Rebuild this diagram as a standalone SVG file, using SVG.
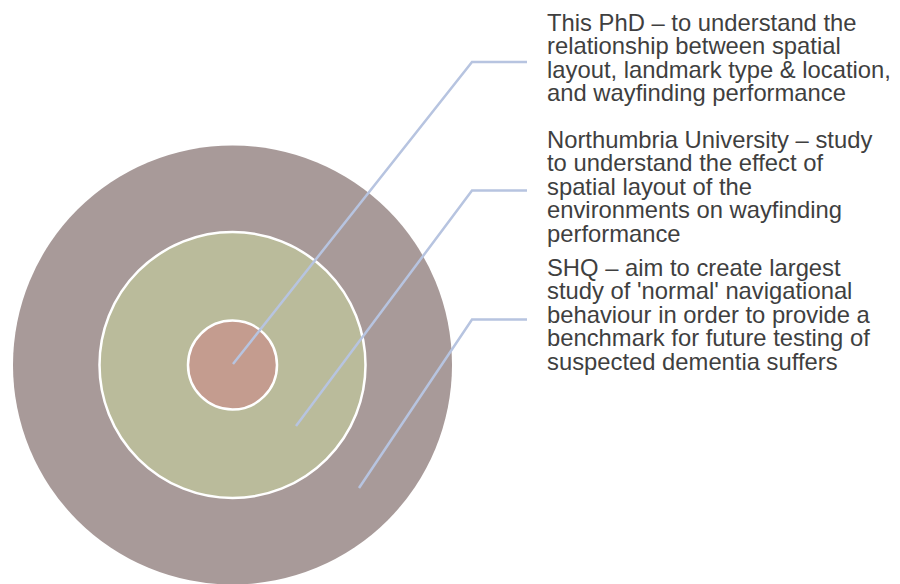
<svg xmlns="http://www.w3.org/2000/svg" width="900" height="584" viewBox="0 0 900 584">
  <style>
    .ring { stroke: #ffffff; stroke-width: 2.5; }
    .leader { fill: none; stroke: #b7c4e0; stroke-width: 2.5; stroke-linejoin: miter; }
    .label { font-family: "Liberation Sans", Arial, sans-serif; font-size: 23.8px; fill: #3f3f3f; }
  </style>
  <rect width="900" height="584" fill="#ffffff"/>

  <!-- concentric rings, outermost first -->
  <g id="ring-shq">
    <circle cx="232.5" cy="365" r="219.5" fill="#a89a99"/>
  </g>
  <g id="ring-northumbria">
    <circle class="ring" cx="232.5" cy="365" r="133" fill="#babb9b"/>
  </g>
  <g id="ring-phd">
    <circle class="ring" cx="232.5" cy="365" r="44.5" fill="#c49c8f"/>
  </g>

  <!-- leader lines from each ring to its description -->
  <g id="connectors">
    <polyline class="leader" points="233,364 472,62 527,62"/>
    <polyline class="leader" points="296,426 472,190.5 527,190.5"/>
    <polyline class="leader" points="359,488 472,319.5 527,319.5"/>
  </g>

  <g id="label-phd">
    <text class="label" x="547">
      <tspan x="547" y="31">This PhD – to understand the</tspan>
      <tspan x="547" y="54.4">relationship between spatial</tspan>
      <tspan x="547" y="77.8">layout, landmark type &amp; location,</tspan>
      <tspan x="547" y="101.2">and wayfinding performance</tspan>
    </text>
  </g>
  <g id="label-northumbria">
    <text class="label" x="547">
      <tspan x="547" y="148">Northumbria University – study</tspan>
      <tspan x="547" y="171.4">to understand the effect of</tspan>
      <tspan x="547" y="194.8">spatial layout of the</tspan>
      <tspan x="547" y="218.2">environments on wayfinding</tspan>
      <tspan x="547" y="241.6">performance</tspan>
    </text>
  </g>
  <g id="label-shq">
    <text class="label" x="547">
      <tspan x="547" y="276">SHQ – aim to create largest</tspan>
      <tspan x="547" y="299.4">study of 'normal' navigational</tspan>
      <tspan x="547" y="322.8">behaviour in order to provide a</tspan>
      <tspan x="547" y="346.2">benchmark for future testing of</tspan>
      <tspan x="547" y="369.6">suspected dementia suffers</tspan>
    </text>
  </g>
</svg>
